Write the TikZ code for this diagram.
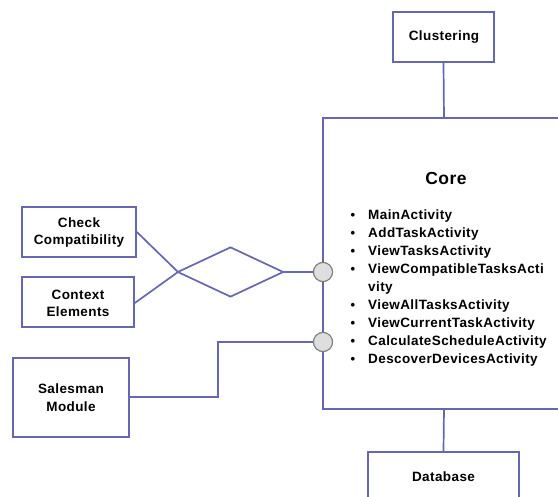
\documentclass[tikz,border=0pt]{standalone}
\usepackage{fontspec}
\setmainfont{Liberation Sans}[LetterSpace=3]
\usetikzlibrary{shapes.geometric}
\definecolor{edgec}{RGB}{102,102,178}
\definecolor{ballfill}{RGB}{222,222,222}
\definecolor{ballrim}{RGB}{125,125,125}
\tikzset{
  box/.style={draw=edgec, line width=1.7pt, fill=white, inner sep=0pt},
  wire/.style={draw=edgec, line width=1.7pt},
  lbl/.style={font=\fontsize{13.5}{17}\selectfont\bfseries, align=center, inner sep=0pt},
  itm/.style={font=\fontsize{13.5}{17}\selectfont\bfseries, anchor=west, inner sep=0pt},
  bul/.style={font=\fontsize{13}{17}\selectfont\bfseries, inner sep=0pt},
  ball/.style={circle, draw=ballrim, line width=1pt, fill=ballfill, minimum size=19pt, inner sep=0pt},
}
\begin{document}
\begin{tikzpicture}[x=1pt,y=-1pt]
\useasboundingbox (0,0) rectangle (558,497);
\clip (0,0) rectangle (558,497);
\fill[white] (0,0) rectangle (558,497);
% boxes
\node[box, minimum width=101pt, minimum height=50pt] (clus) at (443.5,37) {};
\node[box, minimum width=277pt, minimum height=291pt] (core) at (461.5,263.5) {};
\node[box, minimum width=151pt, minimum height=52pt] (db) at (443.5,478) {};
\node[box, minimum width=114pt, minimum height=50pt] (chk) at (79,232) {};
\node[box, minimum width=112pt, minimum height=50pt] (ctx) at (78,302) {};
\node[box, minimum width=116pt, minimum height=79pt] (sal) at (71,397.5) {};
\node[diamond, draw=edgec, line width=1.7pt, minimum width=106pt, minimum height=50pt, inner sep=0pt, aspect=2.1] (dia) at (230.5,272) {};
% connectors
\draw[wire] (clus.south) -- (444,118);
\draw[wire] (444,409) -- (db.north);
\coordinate (j1) at (178,272);
\draw[wire] (chk.east |- 0,232) -- (j1);
\draw[wire] (ctx.east |- 0,303) -- (j1);
\node[ball] (b1) at (323,272) {};
\node[ball] (b2) at (323,342) {};
\draw[wire] (dia.east) -- (b1.west);
\draw[wire] (sal.east |- 0,397) -- (218,397) -- (218,342) -- (b2.west);
\node[ball] at (323,272) {};
\node[ball] at (323,342) {};
% texts
\node[lbl] (tclus) at (444,37) {Clustering};
\node[lbl] (tdb) at (443.5,477) {Database};
\node[lbl] (tchk) at (79,232.5) {Check\\Compatibility};
\node[lbl] (tctx) at (78,303) {Context\\Elements};
\node[lbl, font=\fontsize{13.5}{18}\selectfont\bfseries] (tsal) at (71,398) {Salesman\\Module};
\node[lbl, font=\fontsize{17.5}{20}\selectfont\bfseries] (tcore) at (446,178) {Core};
\node[bul] (u1) at (353,216) {•};
\node[itm] (i1) at (368,216) {MainActivity};
\node[bul] (u2) at (353,234) {•};
\node[itm] (i2) at (368,234) {AddTaskActivity};
\node[bul] (u3) at (353,252) {•};
\node[itm] (i3) at (368,252) {ViewTasksActivity};
\node[bul] (u4) at (353,270.5) {•};
\node[itm] (i4) at (368,270.5) {ViewCompatibleTasksActi};
\node[itm] (i4b) at (368,288) {vity};
\node[bul] (u5) at (353,306.5) {•};
\node[itm] (i5) at (368,306.5) {ViewAllTasksActivity};
\node[bul] (u6) at (353,324.5) {•};
\node[itm] (i6) at (368,324.5) {ViewCurrentTaskActivity};
\node[bul] (u7) at (353,342.5) {•};
\node[itm] (i7) at (368,342.5) {CalculateScheduleActivity};
\node[bul] (u8) at (353,360.5) {•};
\node[itm] (i8) at (368,360.5) {DescoverDevicesActivity};
\end{tikzpicture}
\end{document}
